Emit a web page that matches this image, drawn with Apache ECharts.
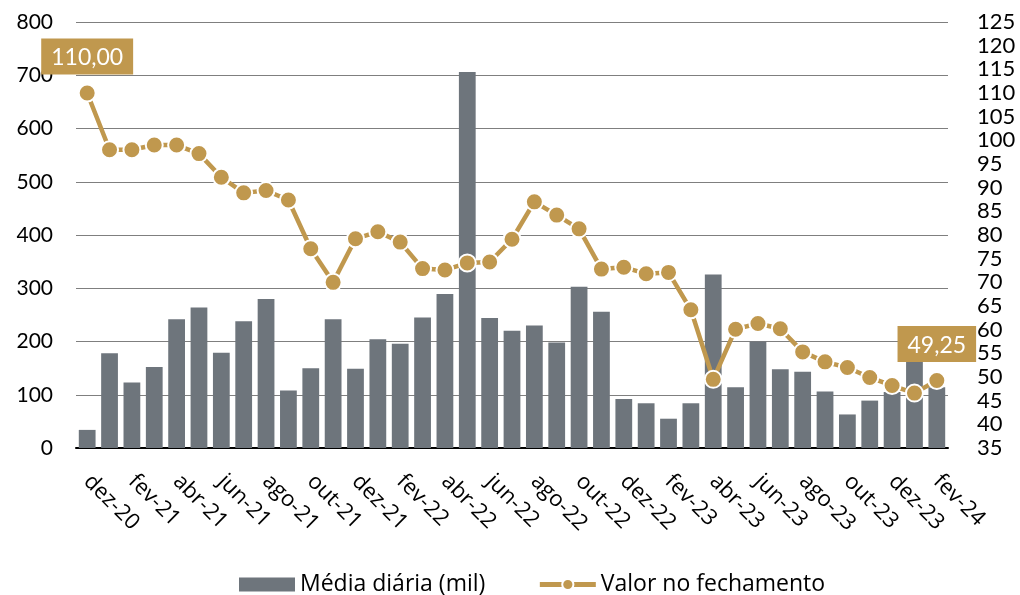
<!DOCTYPE html>
<html>
<head>
<meta charset="utf-8">
<script src="https://cdn.jsdelivr.net/npm/echarts@6/dist/echarts.min.js"></script>
<style>
  html, body { margin: 0; padding: 0; background: #fff; }
  #chart { width: 1020px; height: 595px; }
</style>
</head>
<body>
<div id="chart"></div>
<script>
// meses de dez-20 a fev-24
const months = [
  'dez-20', 'jan-21', 'fev-21', 'mar-21', 'abr-21', 'mai-21', 'jun-21', 'jul-21', 'ago-21', 'set-21',
  'out-21', 'nov-21', 'dez-21', 'jan-22', 'fev-22', 'mar-22', 'abr-22', 'mai-22', 'jun-22', 'jul-22',
  'ago-22', 'set-22', 'out-22', 'nov-22', 'dez-22', 'jan-23', 'fev-23', 'mar-23', 'abr-23', 'mai-23',
  'jun-23', 'jul-23', 'ago-23', 'set-23', 'out-23', 'nov-23', 'dez-23', 'jan-24', 'fev-24'
]

// Média diária (mil)
const mediaDiaria = [
  34, 178, 123, 152, 242, 264, 179, 238, 280, 108,
  150, 242, 149, 204, 196, 245, 289, 706, 244, 220,
  230, 198, 303, 256, 92, 84, 55, 84, 326, 114,
  200, 148, 143, 106, 63, 89, 105, 170, 114
]

// Valor no fechamento
const valorFechamento = [
  110.00, 98.0, 98.0, 99.0, 99.0, 97.2, 92.2, 88.9, 89.4, 87.4,
  77.1, 70.0, 79.2, 80.7, 78.5, 72.9, 72.6, 74.1, 74.3, 79.1,
  87.0, 84.2, 81.3, 72.8, 73.2, 71.8, 72.1, 64.2, 49.5, 60.1,
  61.3, 60.2, 55.3, 53.2, 52.0, 49.9, 48.2, 46.6, 49.25
]

// índices com rótulo de valor
const labeledPoints = [0, valorFechamento.length - 1]

const GOLD = '#C0984E'
const GREY = '#6E757C'
const FONT = 'Lato'

const chart = echarts.init(document.getElementById('chart'), null, { renderer: 'canvas' })

const lineData = valorFechamento.map((v, i) => {
  if (labeledPoints.indexOf(i) < 0) return v
  return {
    value: v,
    label: {
      show: true,
      position: 'top',
      distance: 9,
      formatter: p => p.value.toFixed(2).replace('.', ','),
      color: '#fff',
      fontFamily: FONT,
      fontSize: 23,
      backgroundColor: GOLD,
      padding: [8, 10, 5, 10]
    }
  }
})

chart.setOption({
  animation: false,
  textStyle: { fontFamily: FONT },
  grid: {
    left: 76,
    right: 72,
    top: 22,
    bottom: 147,
    outerBoundsMode: 'none'
  },
  legend: {
    left: 234,
    top: 568,
    itemWidth: 56,
    itemHeight: 14,
    itemGap: 52,
    textStyle: { color: '#000', fontSize: 23, fontFamily: 'Open Sans' },
    data: [
      { name: 'Média diária (mil)', icon: 'rect' },
      { name: 'Valor no fechamento', lineStyle: { width: 5 } }
    ]
  },
  xAxis: {
    type: 'category',
    data: months,
    boundaryGap: true,
    axisTick: { show: false },
    axisLine: { lineStyle: { color: '#000', width: 2 } },
    axisLabel: {
      interval: 1,
      rotate: -45,
      margin: 30,
      color: '#000',
      fontSize: 22,
      fontFamily: 'Open Sans'
    }
  },
  yAxis: [{
    type: 'value',
    min: 0,
    max: 800,
    interval: 100,
    axisLine: { show: false },
    axisTick: { show: false },
    axisLabel: { margin: 23, color: '#000', fontSize: 21, fontFamily: FONT },
    splitLine: { lineStyle: { color: '#7f7f7f', width: 1 } }
  }, {
    type: 'value',
    min: 35,
    max: 125,
    interval: 5,
    axisLine: { show: false },
    axisTick: { show: false },
    axisLabel: { margin: 29, color: '#000', fontSize: 22, fontFamily: FONT },
    splitLine: { show: false }
  }],
  series: [{
    name: 'Média diária (mil)',
    type: 'bar',
    data: mediaDiaria,
    barCategoryGap: '25%',
    itemStyle: { color: GREY }
  }, {
    name: 'Valor no fechamento',
    type: 'line',
    yAxisIndex: 1,
    data: lineData,
    showAllSymbol: true,
    symbol: 'circle',
    symbolSize: 17,
    z: 3,
    lineStyle: { color: GOLD, width: 4.5 },
    itemStyle: { color: GOLD, borderColor: '#fff', borderWidth: 2 }
  }]
})
</script>
</body>
</html>
